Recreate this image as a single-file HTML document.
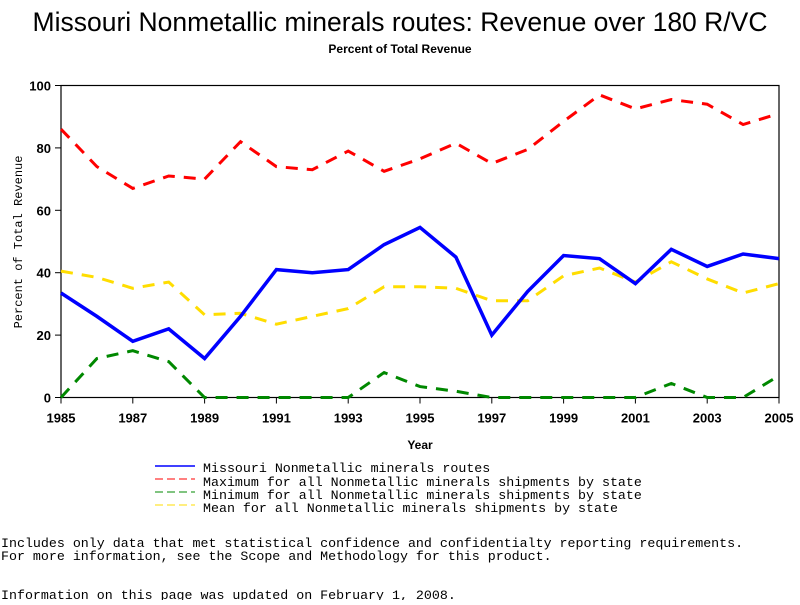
<!DOCTYPE html>
<html><head><meta charset="utf-8"><style>
body{margin:0;background:#fff;width:800px;height:600px;overflow:hidden}
svg text{font-family:"Liberation Mono",monospace}
</style></head><body>
<svg id="c" width="800" height="600" xmlns="http://www.w3.org/2000/svg">
<text x="400" y="31" text-anchor="middle" style="font-family:'Liberation Sans',sans-serif;font-size:26.5px">Missouri Nonmetallic minerals routes: Revenue over 180 R/VC</text>
<text x="400" y="53" text-anchor="middle" style="font-family:'Liberation Sans',sans-serif;font-size:12px;font-weight:bold">Percent of Total Revenue</text>
<g id="axes"></g>
<g id="series"></g>
<text x="420" y="449" text-anchor="middle" style="font-family:'Liberation Sans',sans-serif;font-size:12px;font-weight:bold">Year</text>
<text transform="translate(22,242) rotate(-90)" text-anchor="middle" style="font-size:12px">Percent of Total Revenue</text>
<g style="font-size:13.3px">
<line x1="155" y1="466" x2="195" y2="466" stroke="#00f" stroke-width="1.5"/>
<text x="203" y="472">Missouri Nonmetallic minerals routes</text>
<line x1="155" y1="479" x2="195" y2="479" stroke="#f00" stroke-dasharray="8,4"/>
<text x="203" y="486">Maximum for all Nonmetallic minerals shipments by state</text>
<line x1="155" y1="492" x2="195" y2="492" stroke="#080" stroke-dasharray="8,4"/>
<text x="203" y="499">Minimum for all Nonmetallic minerals shipments by state</text>
<line x1="155" y1="505" x2="195" y2="505" stroke="#fd0" stroke-dasharray="8,4"/>
<text x="203" y="512">Mean for all Nonmetallic minerals shipments by state</text>
</g>
<g style="font-size:13.3px">
<text x="1" y="547">Includes only data that met statistical confidence and confidentialty reporting requirements.</text>
<text x="1" y="560">For more information, see the Scope and Methodology for this product.</text>
<text x="1" y="599">Information on this page was updated on February 1, 2008.</text>
</g>
</svg>
<script>
const years=[1985,1986,1987,1988,1989,1990,1991,1992,1993,1994,1995,1996,1997,1998,1999,2000,2001,2002,2003,2004,2005];
const missouri=[33.5,26,18,22,12.5,26,41,40,41,49,54.5,45,20,34,45.5,44.5,36.5,47.5,42,46,44.5];
const maxVals=[86,74,67,71,70,82,74,73,79,72.5,76.5,81.5,75,79.5,88.5,97,92.5,95.5,94,87.5,91];
const minVals=[0,12.5,15,11.5,0,0,0,0,0,8,3.5,2,0,0,0,0,0,4.5,0,0,7];
const meanVals=[40.5,38.5,35,37,26.5,27,23.5,26,28.5,35.5,35.5,35,31,31,39,41.5,37,43.5,38,33.5,36.5];
const xTicks=[1985,1987,1989,1991,1993,1995,1997,1999,2001,2003,2005];
const yTicks=[0,20,40,60,80,100];
const NS="http://www.w3.org/2000/svg";
const X0=61,X1=779,Y0=397.5,Y1=85.5;
const xs=y=>X0+(y-1985)/20*(X1-X0);
const ys=v=>Y0-v/100*(Y0-Y1);
function mk(t,a,p){const e=document.createElementNS(NS,t);for(const k in a)e.setAttribute(k,a[k]);p.appendChild(e);return e;}
const ax=document.getElementById('axes');
const frame=mk('rect',{x:X0,y:Y1,width:X1-X0,height:Y0-Y1,fill:'none',stroke:'#000','stroke-width':1.2},ax);


xTicks.forEach(t=>{
  const l=mk('line',{x1:xs(t),x2:xs(t),y1:Y0,y2:Y0+6,stroke:'#000'},ax);
  
  
  const tx=mk('text',{x:xs(t),y:Y0+25,'text-anchor':'middle',style:"font-family:'Liberation Sans',sans-serif;font-size:13px;font-weight:bold"},ax);
  tx.textContent=t;
  
  
});
yTicks.forEach(t=>{
  const l=mk('line',{x1:X0-6,x2:X0,y1:ys(t),y2:ys(t),stroke:'#000'},ax);
  
  
  const tx=mk('text',{x:X0-10,y:ys(t)+5,'text-anchor':'end',style:"font-family:'Liberation Sans',sans-serif;font-size:13px;font-weight:bold"},ax);
  tx.textContent=t;
  
  
});
const sg=document.getElementById('series');
function line(vals,color,w,dash,name){
  const p=mk('polyline',{points:vals.map((v,i)=>xs(years[i])+','+ys(v)).join(' '),fill:'none',stroke:color,'stroke-width':w,'stroke-dasharray':dash},sg);
  
  
}
line(maxVals,'#f00',3,'12,9','series-maximum');
line(meanVals,'#fd0',3,'12,9','series-mean');
line(minVals,'#080',3,'12,9','series-minimum');
line(missouri,'#00f',3.5,'none','series-missouri');
</script>
</body></html>
